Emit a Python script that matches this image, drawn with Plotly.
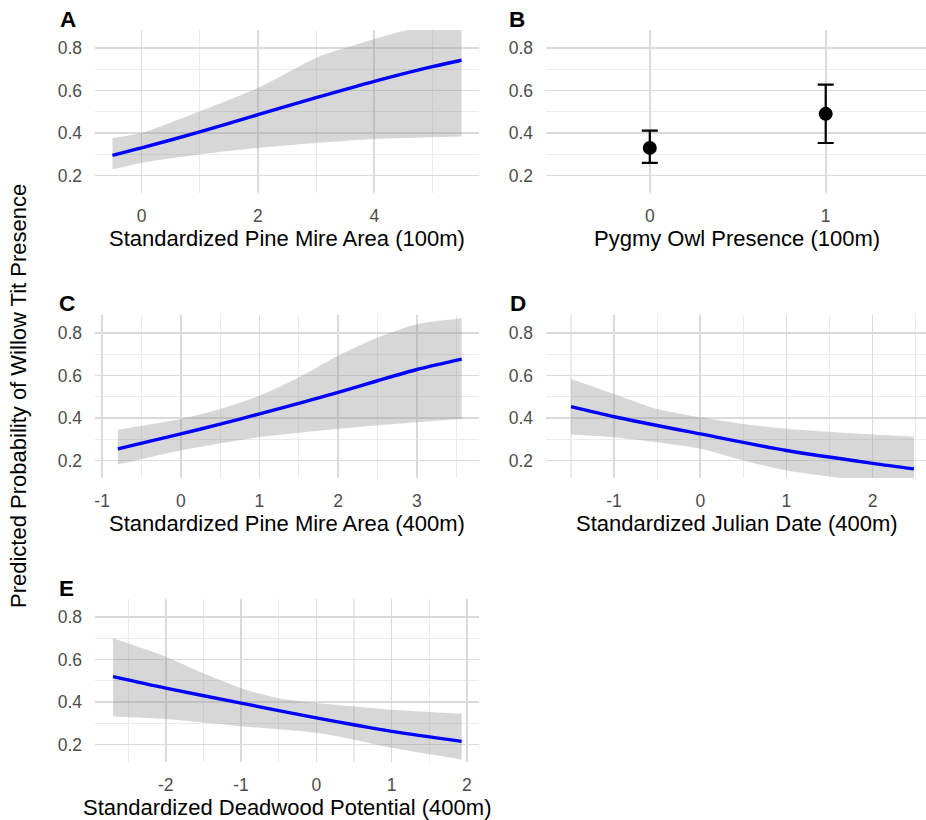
import plotly.graph_objects as go

# ---------------- data ----------------
# Panel A: Standardized Pine Mire Area (100m)
a_x = [-0.5, 0, 1, 2, 3, 4, 5, 5.5]
a_fit = [0.295, 0.33, 0.405, 0.486, 0.566, 0.643, 0.712, 0.742]
a_x_lo = [-0.5, 0, 1, 2, 3, 4, 5.5]
a_lo = [0.228, 0.26, 0.299, 0.33, 0.353, 0.372, 0.384]
a_x_hi = [-0.5, 0, 1, 2, 3, 3.5, 4, 4.6, 5.5]
a_hi = [0.377, 0.40, 0.502, 0.612, 0.753, 0.800, 0.842, 0.886, 0.93]
a_ticks = [0, 2, 4]

# Panel B: Pygmy Owl Presence (100m)
b_x = [0, 1]
b_labels = ["0", "1"]
b_fit = [0.33, 0.49]
b_lo = [0.26, 0.353]
b_hi = [0.411, 0.627]

# Panel C: Standardized Pine Mire Area (400m)
c_x = [-0.8, 0, 0.5, 1, 1.5, 2, 2.5, 3, 3.57]
c_fit = [0.255, 0.325, 0.371, 0.419, 0.469, 0.52, 0.575, 0.628, 0.677]
c_x_hi = [-0.8, 0, 0.5, 1, 1.5, 2, 2.5, 3, 3.57]
c_hi = [0.345, 0.395, 0.442, 0.505, 0.59, 0.692, 0.778, 0.841, 0.869]
c_x_lo = [-0.8, 0, 1, 2, 3, 3.57]
c_lo = [0.181, 0.247, 0.309, 0.349, 0.38, 0.395]
c_ticks = [-1, 0, 1, 2, 3]

# Panel D: Standardized Julian Date (400m)
d_x = [-1.5, -1, 0, 1, 2, 2.48]
d_fit = [0.453, 0.406, 0.325, 0.247, 0.187, 0.161]
d_x_hi = [-1.5, -1, -0.5, 0, 0.5, 1, 2, 2.48]
d_hi = [0.583, 0.513, 0.442, 0.403, 0.372, 0.349, 0.322, 0.312]
d_x_lo = [-1.5, -1, 0, 0.5, 1, 1.5, 2, 2.48]
d_lo = [0.322, 0.309, 0.255, 0.2, 0.153, 0.125, 0.10, 0.085]
d_ticks = [-1, 0, 1, 2]

# Panel E: Standardized Deadwood Potential (400m)
e_x = [-2.7, -2, -1, 0, 1, 1.93]
e_fit = [0.519, 0.465, 0.395, 0.325, 0.262, 0.215]
e_x_hi = [-2.7, -2, -1.5, -1, -0.5, 0, 0.5, 1, 1.93]
e_hi = [0.699, 0.613, 0.535, 0.465, 0.418, 0.395, 0.379, 0.364, 0.345]
e_x_lo = [-2.7, -2, -1, 0, 0.5, 1, 1.93]
e_lo = [0.332, 0.32, 0.286, 0.255, 0.223, 0.185, 0.13]
e_ticks = [-2, -1, 0, 1, 2]

y_ticks = [0.2, 0.4, 0.6, 0.8]

x_titles = [
    "Standardized Pine Mire Area (100m)",
    "Pygmy Owl Presence (100m)",
    "Standardized Pine Mire Area (400m)",
    "Standardized Julian Date (400m)",
    "Standardized Deadwood Potential (400m)",
]
tags = ["A", "B", "C", "D", "E"]
y_title = "Predicted Probability of Willow Tit Presence"

# ---------------- styling / layout ----------------
W, H = 926, 820
FONT = "Liberation Sans, Arial, Helvetica, sans-serif"
BLUE = "#0000FF"
RIBBON = "rgba(150,150,150,0.38)"
MAJ = "#DADADA"
MIN = "#EBEBEB"

def px_x(p):
    return p / W

def px_y(p):
    return 1 - p / H

left_dom = [px_x(95), px_x(479)]
right_dom = [px_x(546), 1.0]
row_dom = [
    [px_y(193), px_y(30)],
    [px_y(478), px_y(315)],
    [px_y(762), px_y(599)],
]
y_range = [0.118, 0.884]

fig = go.Figure()

def add_band(xs_lo, lo, xs_hi, hi, xs, fit, ax):
    xa = "x" if ax == 1 else f"x{ax}"
    ya = "y" if ax == 1 else f"y{ax}"
    fig.add_trace(go.Scatter(x=xs_lo, y=lo, mode="lines",
                             line=dict(width=0, shape="spline", smoothing=0.7),
                             hoverinfo="skip", showlegend=False, xaxis=xa, yaxis=ya))
    fig.add_trace(go.Scatter(x=xs_hi, y=hi, mode="lines", fill="tonexty",
                             fillcolor=RIBBON, line=dict(width=0, shape="spline", smoothing=0.7),
                             hoverinfo="skip", showlegend=False, xaxis=xa, yaxis=ya))
    fig.add_trace(go.Scatter(x=xs, y=fit, mode="lines",
                             line=dict(color=BLUE, width=3.4, shape="spline", smoothing=0.8),
                             showlegend=False, xaxis=xa, yaxis=ya))

add_band(a_x_lo, a_lo, a_x_hi, a_hi, a_x, a_fit, 1)
add_band(c_x_lo, c_lo, c_x_hi, c_hi, c_x, c_fit, 3)
add_band(d_x_lo, d_lo, d_x_hi, d_hi, d_x, d_fit, 4)
add_band(e_x_lo, e_lo, e_x_hi, e_hi, e_x, e_fit, 5)

fig.add_trace(go.Scatter(
    x=b_x, y=b_fit, mode="markers",
    marker=dict(color="black", size=14),
    error_y=dict(type="data", symmetric=False,
                 array=[h - f for h, f in zip(b_hi, b_fit)],
                 arrayminus=[f - l for f, l in zip(b_fit, b_lo)],
                 color="black", thickness=2.2, width=8),
    showlegend=False, xaxis="x2", yaxis="y2"))

tick_font = dict(family=FONT, size=17.5, color="#4D4D4D")

def fmt(v):
    return str(v).replace("\u2212", "-")

def xaxis(dom, rng, ticks, minor, anchor, ticktext=None):
    d = dict(domain=dom, range=rng, anchor=anchor, showline=False, zeroline=False,
             ticks="", showgrid=True, gridcolor=MAJ, gridwidth=1.6, automargin=False,
             tickmode="array", tickvals=ticks,
             ticktext=ticktext if ticktext is not None else [fmt(v) for v in ticks],
             tickfont=tick_font, ticklabelstandoff=10, fixedrange=True)
    if minor:
        d["minor"] = dict(tick0=0, dtick=minor, showgrid=True, gridcolor=MIN, gridwidth=1.1, ticks="")
    return d

def yaxis(dom, anchor):
    return dict(domain=dom, range=y_range, anchor=anchor, showline=False, zeroline=False,
                ticks="", showgrid=True, gridcolor=MAJ, gridwidth=1.6, automargin=False,
                tickmode="array", tickvals=y_ticks, ticktext=[f"{v:.1f}" for v in y_ticks],
                minor=dict(tick0=0, dtick=0.1, showgrid=True, gridcolor=MIN, gridwidth=1.1, ticks=""),
                tickfont=tick_font, ticklabelstandoff=12, fixedrange=True)

layout = dict(
    width=W, height=H, paper_bgcolor="white", plot_bgcolor="white",
    margin=dict(l=0, r=0, t=0, b=0, autoexpand=False), showlegend=False,
    font=dict(family=FONT, color="black"),
    xaxis=xaxis(left_dom, [-0.8, 5.8], a_ticks, 1, "y"),
    yaxis=yaxis(row_dom[0], "x"),
    xaxis2=xaxis(right_dom, [-0.59, 1.57], b_x, None, "y2", ticktext=b_labels),
    yaxis2=yaxis(row_dom[0], "x2"),
    xaxis3=xaxis(left_dom, [-1.09, 3.79], c_ticks, 0.5, "y3"),
    yaxis3=yaxis(row_dom[1], "x3"),
    xaxis4=xaxis(right_dom, [-1.79, 2.62], d_ticks, 0.5, "y4"),
    yaxis4=yaxis(row_dom[1], "x4"),
    xaxis5=xaxis(left_dom, [-2.94, 2.16], e_ticks, 0.5, "y5"),
    yaxis5=yaxis(row_dom[2], "x5"),
)
fig.update_layout(**layout)

annotations = []
title_pos = [(287, 238), (737, 238), (287, 523), (737, 523), (287, 807)]
for t, (cx, cy) in zip(x_titles, title_pos):
    annotations.append(dict(text=t, x=px_x(cx), y=px_y(cy), xref="paper", yref="paper",
                            xanchor="center", yanchor="middle", showarrow=False,
                            font=dict(family=FONT, size=22, color="black")))
tag_pos = [(58, 19), (507, 19), (57, 303), (508, 303), (57, 588)]
for t, (lx, cy) in zip(tags, tag_pos):
    annotations.append(dict(text=f"<b>{t}</b>", x=px_x(lx), y=px_y(cy), xref="paper", yref="paper",
                            xanchor="left", yanchor="middle", showarrow=False,
                            font=dict(family=FONT, size=22.5, color="black")))
annotations.append(dict(text=y_title, x=px_x(18), y=px_y(396), xref="paper", yref="paper",
                        xanchor="center", yanchor="middle", textangle=-90, showarrow=False,
                        font=dict(family=FONT, size=22, color="black")))
fig.update_layout(annotations=annotations)

fig.write_html("out.html", config={"displayModeBar": False, "staticPlot": True},
               post_script="document.body.style.margin='0';document.body.style.overflow='hidden';")
